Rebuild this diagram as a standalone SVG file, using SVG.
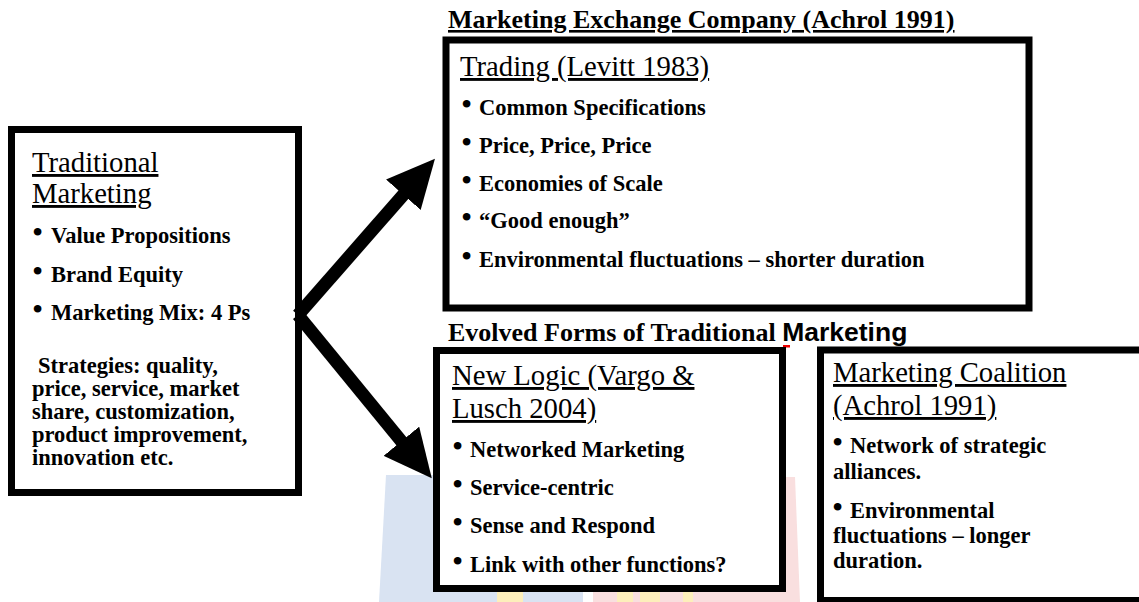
<svg xmlns="http://www.w3.org/2000/svg" width="1139" height="602" viewBox="0 0 1139 602">
<style>
.box{fill:#fff;stroke:#000;stroke-width:7}
.h{font-family:"Liberation Serif","Times New Roman",serif;font-size:28.7px;text-decoration:underline;fill:#000}
.b{font-family:"Liberation Serif","Times New Roman",serif;font-weight:bold;font-size:22.5px;fill:#000}
.b2{font-family:"Liberation Serif","Times New Roman",serif;font-weight:bold;font-size:21.5px;fill:#000}
.t{font-family:"Liberation Serif","Times New Roman",serif;font-weight:bold;font-size:26px;fill:#000}
.s{font-family:"Liberation Sans",Arial,sans-serif;font-weight:bold;font-size:26.5px}
.bul{font-family:"Liberation Serif","Times New Roman",serif;font-size:32px;fill:#000}
.arrow{stroke:#000;stroke-width:13;fill:none;marker-end:url(#ah)}
.wb{fill:#d9e3f2}.wp{fill:#f9dfdf}.wy{fill:#fdefbb}
</style>
<defs>
<marker id="ah" markerUnits="userSpaceOnUse" markerWidth="48" markerHeight="46" viewBox="0 0 48 46" refX="1" refY="23" orient="auto">
<path d="M0,0 L48,23 L0,46 Z" fill="#000"/>
</marker>
</defs>
<rect width="1139" height="602" fill="#fff"/>
<g id="watermark">
<path class="wb" d="M386,475 L500,475 L500,602 L379,602 Z"/>
<rect class="wy" x="497" y="590" width="26" height="12"/>
<rect class="wb" x="523" y="590" width="60" height="12"/>
<rect class="wp" x="593" y="590" width="204" height="12"/>
<rect class="wy" x="617" y="590" width="16" height="12"/>
<rect class="wy" x="640" y="590" width="20" height="12"/>
<rect class="wy" x="683" y="590" width="10" height="12"/>
<path class="wp" d="M786,477 L795,477 L800,602 L786,602 Z"/>
</g>
<g id="traditional">
<rect class="box" x="11.5" y="129.5" width="287" height="363"/>
<text class="h" x="32" y="172">Traditional</text>
<text class="h" x="32" y="203">Marketing</text>
<text class="bul" x="32" y="243">•</text><text class="b" x="51" y="243">Value Propositions</text>
<text class="bul" x="32" y="282">•</text><text class="b" x="51" y="282">Brand Equity</text>
<text class="bul" x="32" y="320">•</text><text class="b" x="51" y="320">Marketing Mix: 4 Ps</text>
<text class="b" x="38" y="373">Strategies: quality,</text>
<text class="b" x="32" y="396">price, service, market</text>
<text class="b" x="32" y="419">share, customization,</text>
<text class="b" x="32" y="442">product improvement,</text>
<text class="b" x="32" y="465">innovation etc.</text>
</g>
<g id="trading">
<text class="t" x="448" y="28" text-decoration="underline">Marketing Exchange Company (Achrol 1991)</text>
<rect class="box" x="446" y="40" width="583" height="268" stroke-width="6.5"/>
<text class="h" x="460" y="76">Trading (Levitt 1983)</text>
<text class="bul" x="461" y="115">•</text><text class="b" x="479" y="115">Common Specifications</text>
<text class="bul" x="461" y="153">•</text><text class="b" x="479" y="153">Price, Price, Price</text>
<text class="bul" x="461" y="191">•</text><text class="b" x="479" y="191">Economies of Scale</text>
<text class="bul" x="461" y="228">•</text><text class="b" x="479" y="228">“Good enough”</text>
<text class="bul" x="461" y="267">•</text><text class="b" x="479" y="267">Environmental fluctuations – shorter duration</text>
</g>
<g id="evolved-title">
<text class="t" x="448" y="341">Evolved Forms of Traditional <tspan class="s">Marketing</tspan></text>
<rect x="783" y="345" width="7" height="2.5" fill="#e00"/>
</g>
<g id="newlogic">
<rect class="box" x="436.5" y="350.5" width="346" height="238"/>
<text class="h" x="452" y="385">New Logic (Vargo &amp;</text>
<text class="h" x="452" y="418">Lusch 2004)</text>
<text class="bul" x="452" y="457">•</text><text class="b" x="470" y="457">Networked Marketing</text>
<text class="bul" x="452" y="495">•</text><text class="b" x="470" y="495">Service-centric</text>
<text class="bul" x="452" y="533">•</text><text class="b" x="470" y="533">Sense and Respond</text>
<text class="bul" x="452" y="572">•</text><text class="b" x="470" y="572">Link with other functions?</text>
</g>
<g id="coalition">
<rect class="box" x="820.5" y="350" width="400" height="250.5" stroke-width="6"/>
<text class="h" x="833" y="382">Marketing Coalition</text>
<text class="h" x="833" y="415">(Achrol 1991)</text>
<text class="bul" x="832" y="453">•</text><text class="b" x="850" y="453">Network of strategic</text>
<text class="b" x="833" y="479">alliances.</text>
<text class="bul" x="832" y="518">•</text><text class="b" x="850" y="518">Environmental</text>
<text class="b" x="833" y="543">fluctuations – longer</text>
<text class="b" x="833" y="568">duration.</text>
</g>
<g id="connectors">
<line class="arrow" x1="298" y1="315" x2="404" y2="194"/>
<line class="arrow" x1="298" y1="315" x2="402" y2="442"/>
</g>
</svg>
